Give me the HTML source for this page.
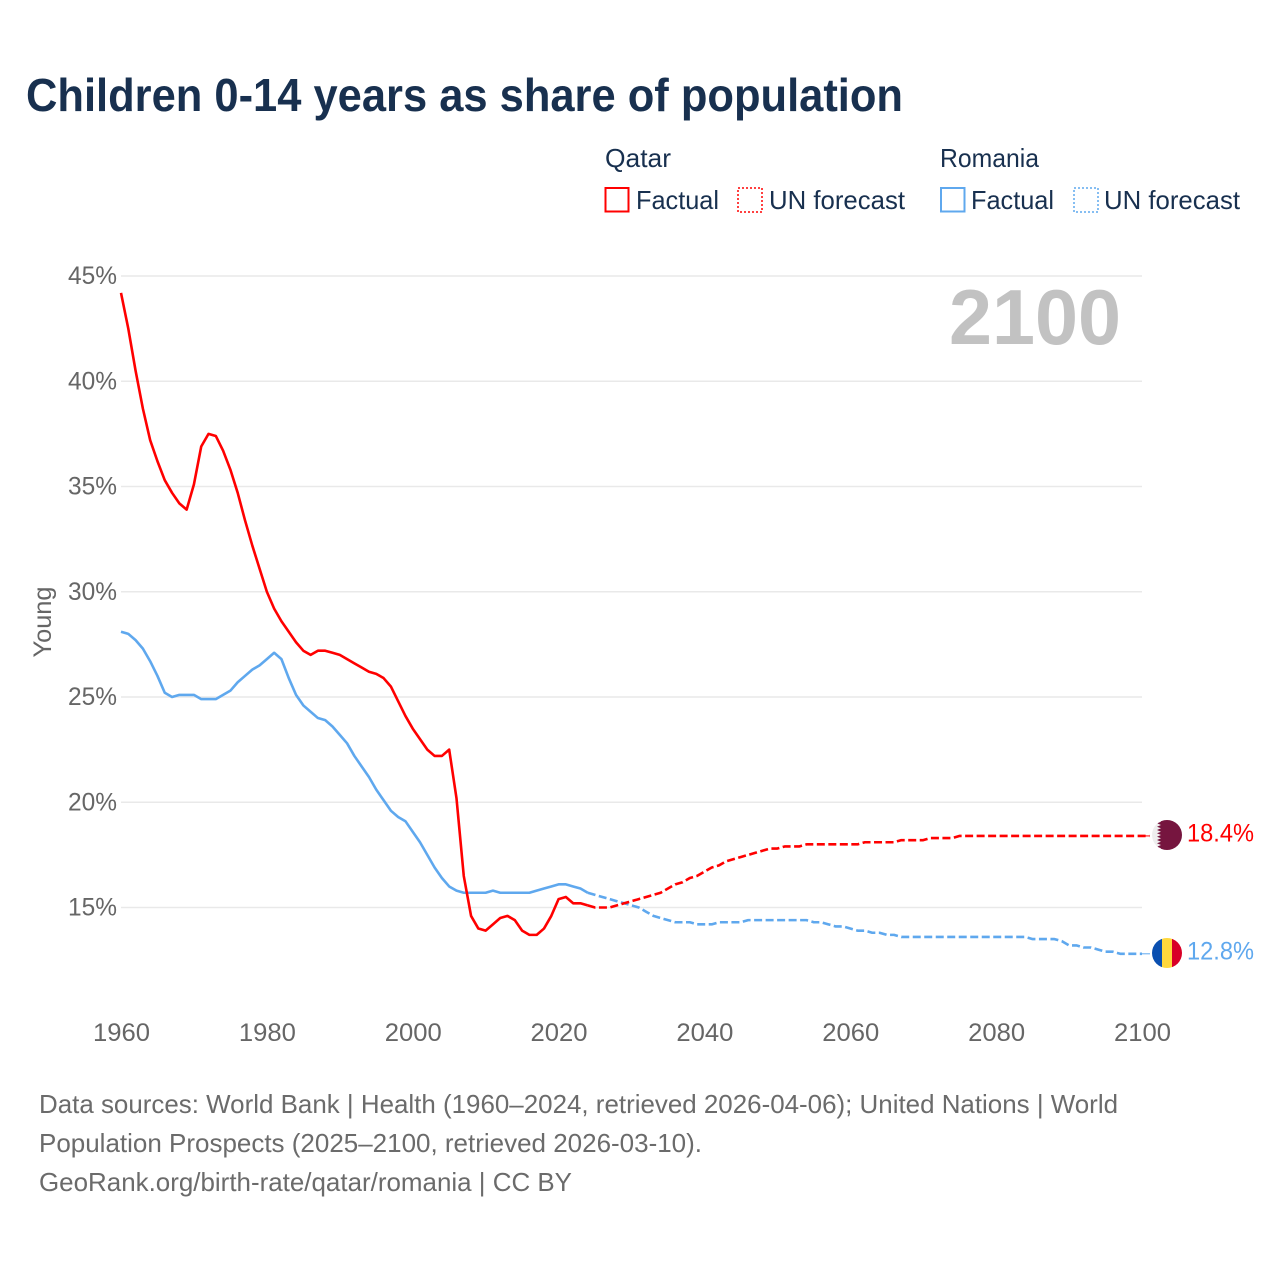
<!DOCTYPE html>
<html lang="en">
<head>
<meta charset="utf-8">
<title>Children 0-14 years as share of population</title>
<style>
html,body{margin:0;padding:0;background:#fff;}
svg{display:block;font-family:"Liberation Sans",sans-serif;}
</style>
</head>
<body>
<svg id="chart" xmlns="http://www.w3.org/2000/svg" width="1280" height="1280" viewBox="0 0 1280 1280">
  <rect width="1280" height="1280" fill="#fff"/>
  <text x="26" y="111" font-size="46" font-weight="700" fill="#18304f" textLength="877" lengthAdjust="spacingAndGlyphs">Children 0-14 years as share of population</text>

  <g font-size="26" fill="#18304f">
    <text x="605" y="167" textLength="66" lengthAdjust="spacingAndGlyphs">Qatar</text>
    <rect x="605.5" y="188" width="23" height="23.5" fill="none" stroke="#ff0000" stroke-width="2"/>
    <text x="636" y="209" textLength="83" lengthAdjust="spacingAndGlyphs">Factual</text>
    <rect x="738" y="188" width="24" height="24" fill="none" stroke="#ff0000" stroke-width="1.5" stroke-dasharray="2 2"/>
    <text x="769" y="209" textLength="136" lengthAdjust="spacingAndGlyphs">UN forecast</text>
    <text x="940" y="167" textLength="99" lengthAdjust="spacingAndGlyphs">Romania</text>
    <rect x="941" y="188" width="23.5" height="23.5" fill="none" stroke="#5fa8ee" stroke-width="2"/>
    <text x="971" y="209" textLength="83" lengthAdjust="spacingAndGlyphs">Factual</text>
    <rect x="1074" y="188" width="24" height="24" fill="none" stroke="#5fa8ee" stroke-width="1.5" stroke-dasharray="2 2"/>
    <text x="1104" y="209" textLength="136" lengthAdjust="spacingAndGlyphs">UN forecast</text>
  </g>

  <g id="grid"></g>
  <g id="ylabels" font-size="25" fill="#666"></g>
  <g id="xlabels" font-size="25" fill="#666"></g>
  <text transform="translate(51 622) rotate(-90)" text-anchor="middle" font-size="25" fill="#666" textLength="71" lengthAdjust="spacingAndGlyphs">Young</text>
  <text x="949" y="344" font-size="78" font-weight="700" fill="#c2c2c2" textLength="172" lengthAdjust="spacingAndGlyphs">2100</text>

  <g id="series"></g>

  <g>
    <clipPath id="clip-qatar"><circle cx="1167" cy="835" r="15"/></clipPath>
    <g clip-path="url(#clip-qatar)">
      <rect x="1152" y="820" width="30" height="30" fill="#eeeeee"/>
      <polygon fill="#76153f" points="1182,820 1157,820 1161,821.700 1157,823.300 1161,825 1157,826.700 1161,828.300 1157,830 1161,831.700 1157,833.300 1161,835 1157,836.700 1161,838.300 1157,840 1161,841.700 1157,843.300 1161,845 1157,846.700 1161,848.300 1157,850 1182,850"/>
    </g>
  </g>
  <g>
    <clipPath id="clip-romania"><circle cx="1167" cy="953" r="15"/></clipPath>
    <g clip-path="url(#clip-romania)">
      <rect x="1152" y="938" width="10" height="30" fill="#0a4fb0"/>
      <rect x="1162" y="938" width="10" height="30" fill="#ffd83d"/>
      <rect x="1172" y="938" width="10" height="30" fill="#d80027"/>
    </g>
  </g>
  <text id="end-qatar" x="1187" y="841.500" font-size="25" fill="#ff0000" textLength="67" lengthAdjust="spacingAndGlyphs"></text>
  <text id="end-romania" x="1187" y="959.500" font-size="25" fill="#5fa8ee" textLength="67" lengthAdjust="spacingAndGlyphs"></text>

  <g font-size="26" fill="#6b6b6b">
    <text x="39" y="1113" textLength="1079" lengthAdjust="spacingAndGlyphs">Data sources: World Bank | Health (1960–2024, retrieved 2026-04-06); United Nations | World</text>
    <text x="39" y="1152" textLength="663" lengthAdjust="spacingAndGlyphs">Population Prospects (2025–2100, retrieved 2026-03-10).</text>
    <text x="39" y="1191" textLength="533" lengthAdjust="spacingAndGlyphs">GeoRank.org/birth-rate/qatar/romania | CC BY</text>
  </g>
</svg>

<script>
const yTicks = [15, 20, 25, 30, 35, 40, 45];
const xTicks = [1960, 1980, 2000, 2020, 2040, 2060, 2080, 2100];
const startYear = 1960;
const lastFactualYear = 2024;
const qatarValues = [
  44.2,42.5,40.5,38.7,37.2,36.2,35.3,34.7,34.2,33.9,
  35.1,36.9,37.5,37.4,36.7,35.8,34.7,33.4,32.2,31.1,
  30.0,29.2,28.6,28.1,27.6,27.2,27.0,27.2,27.2,27.1,
  27.0,26.8,26.6,26.4,26.2,26.1,25.9,25.5,24.8,24.1,
  23.5,23.0,22.5,22.2,22.2,22.5,20.2,16.5,14.6,14.0,
  13.9,14.2,14.5,14.6,14.4,13.9,13.7,13.7,14.0,14.6,
  15.4,15.5,15.2,15.2,15.1,
  15.0,15.0,15.0,15.1,15.2,15.3,15.4,15.5,15.6,15.7,
  15.9,16.1,16.2,16.4,16.5,16.7,16.9,17.0,17.2,17.3,
  17.4,17.5,17.6,17.7,17.8,17.8,17.9,17.9,17.9,18.0,
  18.0,18.0,18.0,18.0,18.0,18.0,18.0,18.1,18.1,18.1,
  18.1,18.1,18.2,18.2,18.2,18.2,18.3,18.3,18.3,18.3,
  18.4,18.4,18.4,18.4,18.4,18.4,18.4,18.4,18.4,18.4,
  18.4,18.4,18.4,18.4,18.4,18.4,18.4,18.4,18.4,18.4,
  18.4,18.4,18.4,18.4,18.4,18.4,18.4
];
const romaniaValues = [
  28.1,28.0,27.7,27.3,26.7,26.0,25.2,25.0,25.1,25.1,
  25.1,24.9,24.9,24.9,25.1,25.3,25.7,26.0,26.3,26.5,
  26.8,27.1,26.8,25.9,25.1,24.6,24.3,24.0,23.9,23.6,
  23.2,22.8,22.2,21.7,21.2,20.6,20.1,19.6,19.3,19.1,
  18.6,18.1,17.5,16.9,16.4,16.0,15.8,15.7,15.7,15.7,
  15.7,15.8,15.7,15.7,15.7,15.7,15.7,15.8,15.9,16.0,
  16.1,16.1,16.0,15.9,15.7,
  15.6,15.5,15.4,15.3,15.2,15.1,15.0,14.8,14.6,14.5,
  14.4,14.3,14.3,14.3,14.2,14.2,14.2,14.3,14.3,14.3,
  14.3,14.4,14.4,14.4,14.4,14.4,14.4,14.4,14.4,14.4,
  14.3,14.3,14.2,14.1,14.1,14.0,13.9,13.9,13.8,13.8,
  13.7,13.7,13.6,13.6,13.6,13.6,13.6,13.6,13.6,13.6,
  13.6,13.6,13.6,13.6,13.6,13.6,13.6,13.6,13.6,13.6,
  13.5,13.5,13.5,13.5,13.4,13.2,13.2,13.1,13.1,13.0,
  12.9,12.9,12.8,12.8,12.8,12.8
];

const SVG_NS = "http://www.w3.org/2000/svg";
const plotLeft = 121, plotRight = 1142;
const xPos = y => plotLeft + (y - 1960) * (plotRight - plotLeft) / 140;
const yPos = v => 276 + (45 - v) * 21.05;

function make(tag, attrs, parent) {
  const el = document.createElementNS(SVG_NS, tag);
  for (const k in attrs) el.setAttribute(k, attrs[k]);
  parent.appendChild(el);
  return el;
}

const grid = document.getElementById("grid");
const ylabels = document.getElementById("ylabels");
const xlabels = document.getElementById("xlabels");
const series = document.getElementById("series");

yTicks.forEach(t => {
  const line = make("line", {x1: plotLeft, x2: plotRight, y1: yPos(t), y2: yPos(t), stroke: "#e9e9e9", "stroke-width": 1.5}, grid);
  
  
  const label = make("text", {x: 117, y: yPos(t) + 8, "text-anchor": "end", textLength: 49, lengthAdjust: "spacingAndGlyphs"}, ylabels);
  label.textContent = t + "%";
  
  
});

xTicks.forEach(t => {
  const label = make("text", {x: xPos(t) + 0.5, y: 1041, "text-anchor": "middle", textLength: 57, lengthAdjust: "spacingAndGlyphs"}, xlabels);
  label.textContent = String(t);
  
  
});

function pathFrom(values, fromIdx, toIdx) {
  const pts = [];
  for (let i = fromIdx; i <= toIdx && i < values.length; i++) {
    pts.push(xPos(startYear + i).toFixed(2) + "," + yPos(values[i]).toFixed(2));
  }
  return "M" + pts.join("L");
}

function drawSeries(values, color) {
  const split = lastFactualYear - startYear;
  const lastIdx = values.length - 1;
  const lastY = yPos(values[lastIdx]);
  const connector = make("line", {x1: plotRight, x2: 1150, y1: lastY, y2: lastY, stroke: color, "stroke-width": 1}, series);
  
  
  const forecast = make("path", {d: pathFrom(values, split, lastIdx), fill: "none", stroke: color, "stroke-width": 2.6, "stroke-dasharray": "8 3.5", "stroke-linejoin": "round"}, series);
  
  
  const factual = make("path", {d: pathFrom(values, 0, split), fill: "none", stroke: color, "stroke-width": 2.6, "stroke-linejoin": "round"}, series);
  
  
}

drawSeries(romaniaValues, "#5fa8ee");
drawSeries(qatarValues, "#ff0000");

document.getElementById("end-qatar").textContent = qatarValues[qatarValues.length - 1].toFixed(1) + "%";
document.getElementById("end-romania").textContent = romaniaValues[romaniaValues.length - 1].toFixed(1) + "%";
</script>
</body>
</html>
